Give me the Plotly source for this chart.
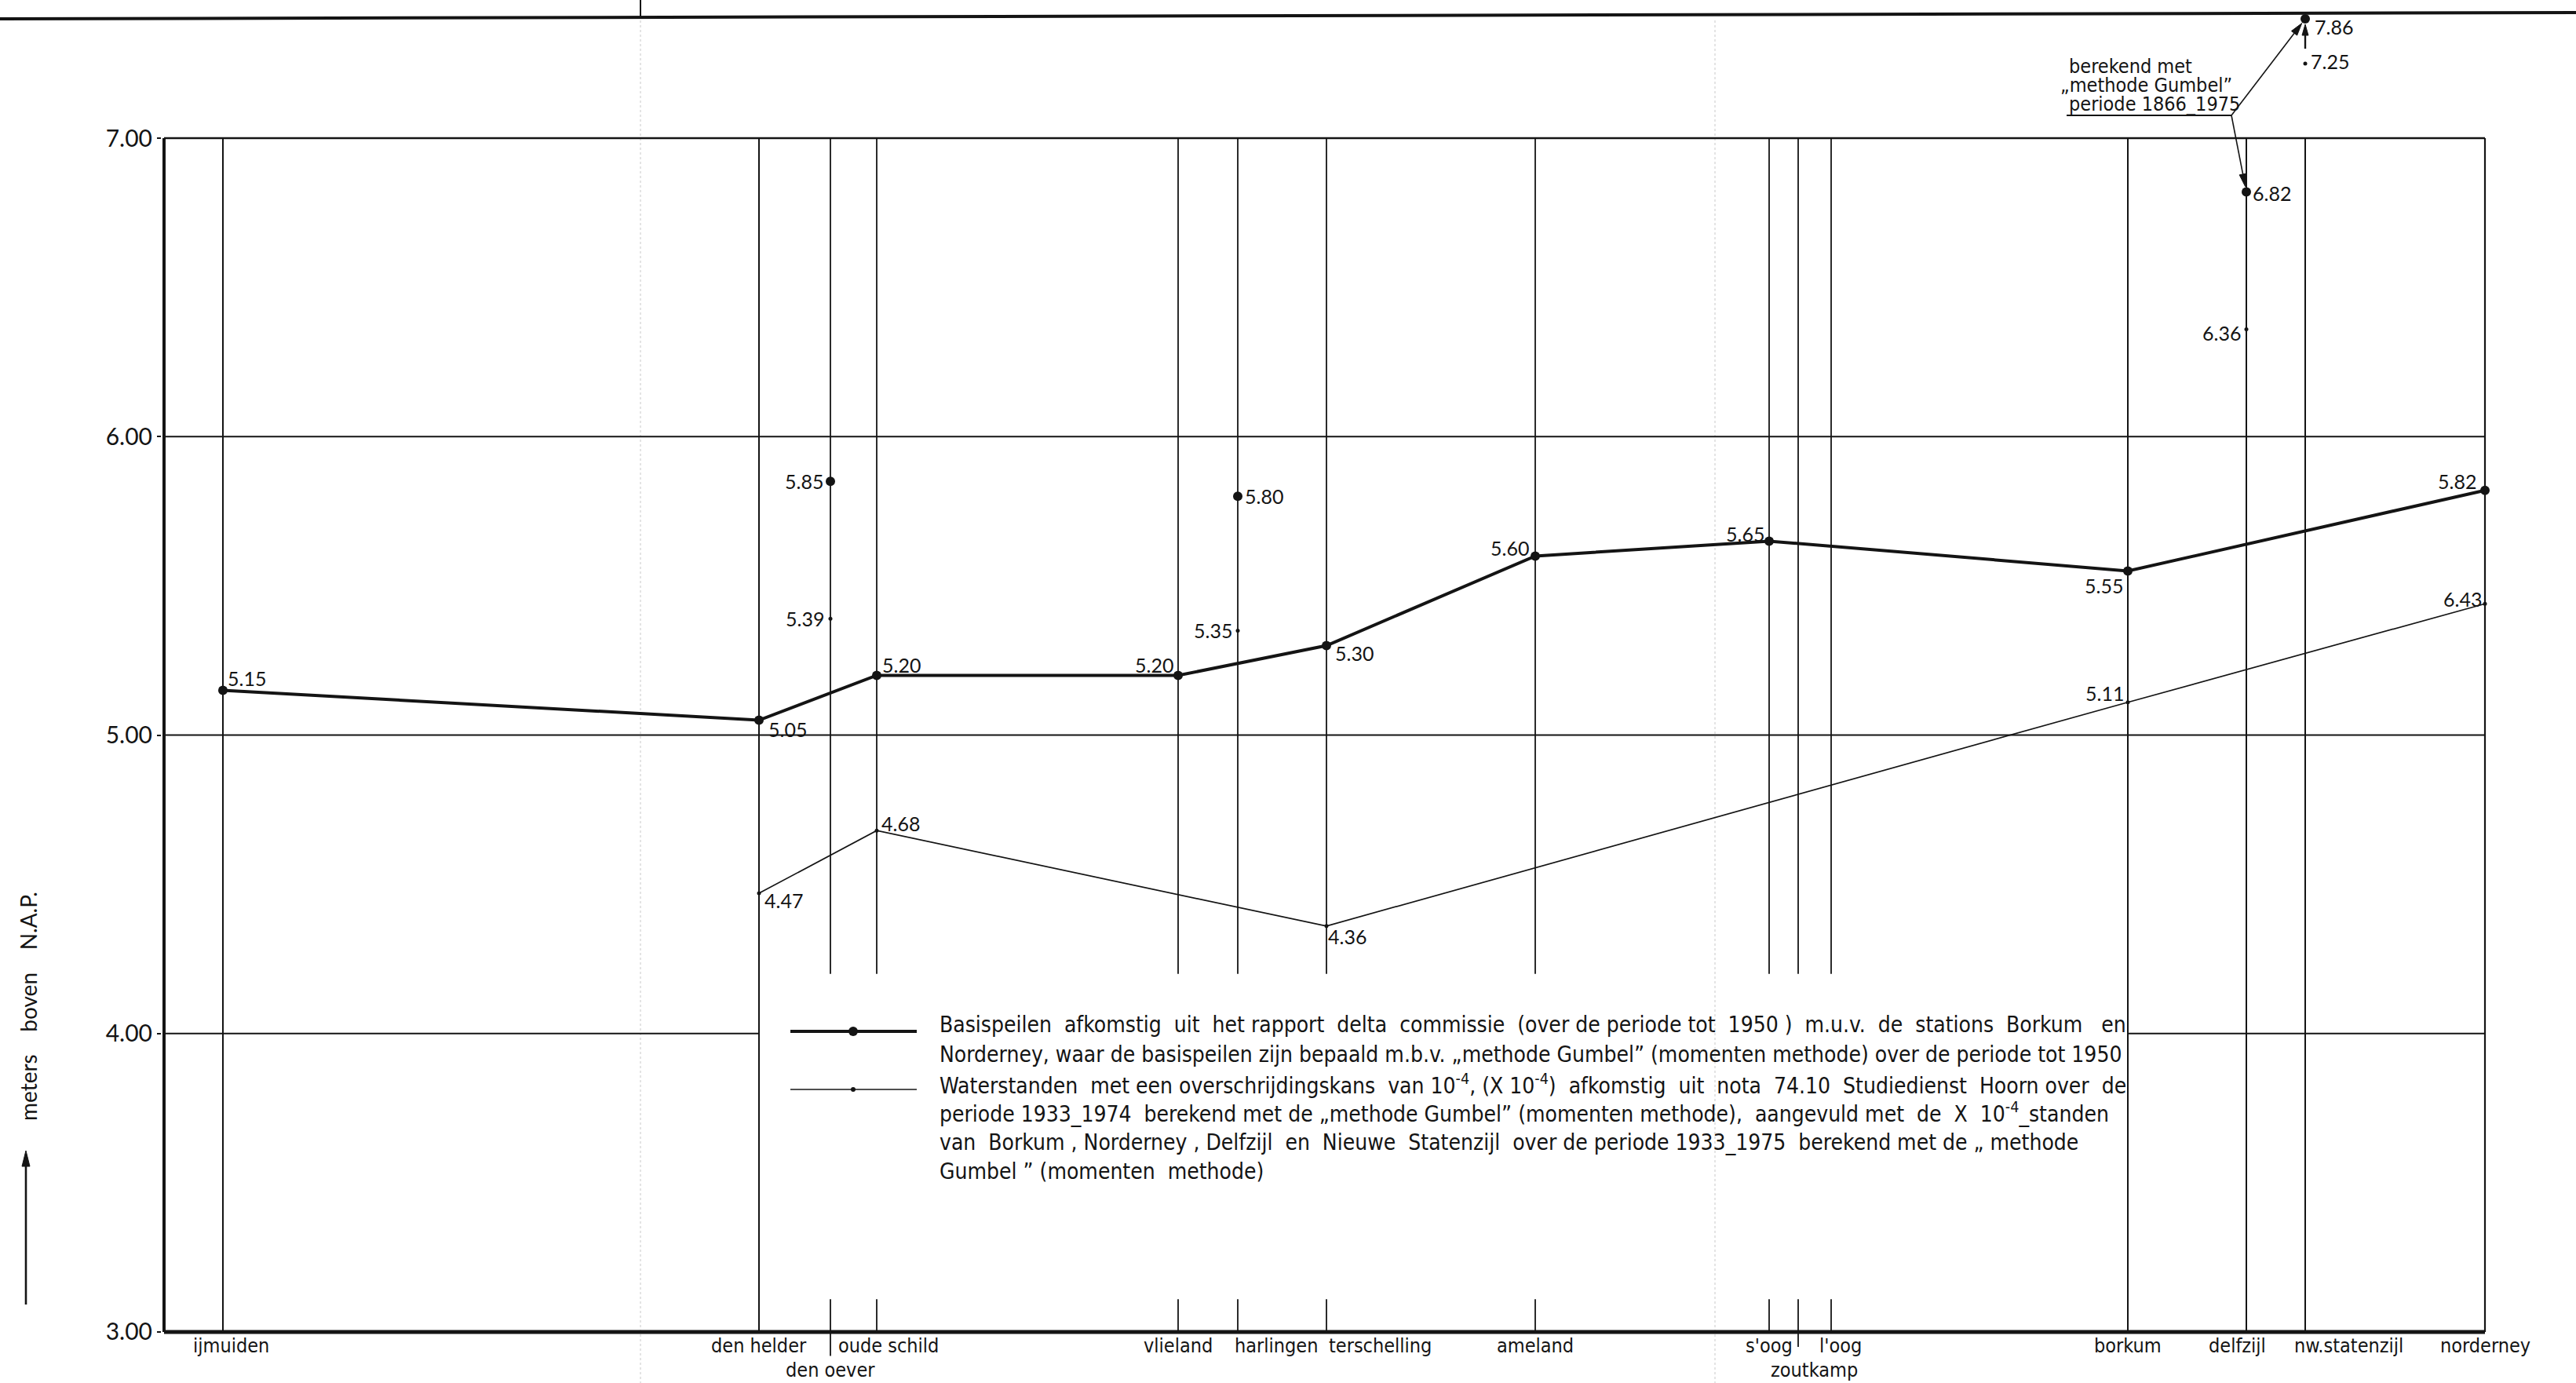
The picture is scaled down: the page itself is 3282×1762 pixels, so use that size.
import plotly.graph_objects as go
import numpy as np

# ---------------- data ----------------
stations = ["ijmuiden", "den helder", "den oever", "oude schild", "vlieland", "harlingen",
            "terschelling", "ameland", "s'oog", "zoutkamp", "l'oog", "borkum", "delfzijl",
            "nw.statenzijl", "norderney"]
# relative position of each station along the coast, as drawn on the sheet
station_pos = [75, 758, 849, 908, 1292, 1368, 1481, 1747, 2045, 2082, 2124, 2502, 2653, 2728, 2957]

# Basispeilen (delta commissie) - connected line
basis_stations = ["ijmuiden", "den helder", "oude schild", "vlieland", "terschelling",
                  "ameland", "s'oog", "borkum", "norderney"]
basis_values = [5.15, 5.05, 5.20, 5.20, 5.30, 5.60, 5.65, 5.55, 5.82]
# Basispeilen - separate points
basis_extra_stations = ["den oever", "harlingen", "delfzijl", "nw.statenzijl"]
basis_extra_values = [5.85, 5.80, 6.82, 7.86]

# Waterstanden 10^-4 - connected line (norderney point drawn at 5.44, printed "6.43")
norm_stations = ["den helder", "oude schild", "terschelling", "borkum", "norderney"]
norm_values = [4.47, 4.68, 4.36, 5.11, 5.44]
norm_labels = ["4.47", "4.68", "4.36", "5.11", "6.43"]
# Waterstanden 10^-4 - separate points
norm_extra_stations = ["den oever", "harlingen", "delfzijl", "nw.statenzijl"]
norm_extra_values = [5.39, 5.35, 6.36, 7.25]

y_ticks = [3, 4, 5, 6, 7]
y_ticklabels = ["3.00", "4.00", "5.00", "6.00", "7.00"]

# ---------------- geometry / style ----------------
W, H = 3282, 1762
L, R, T, B = 206, 113, 5, 8
X0, X1 = -3, 2960
Y0, Y1 = 2.85, 7.45
SHEET_TOP = 7.40          # values above this are drawn on the sheet edge (off-scale)
PW, PH = W - L - R, H - T - B
UNIT = PH / (Y1 - Y0)
XS = PW / (X1 - X0)

def dx(p):   # pixel x -> data x
    return X0 + (p - L) / XS
def dy(p):   # pixel y -> data y
    return Y1 - (p - T) / UNIT
def pxp(p):  # pixel x -> paper x
    return (p - L) / PW
def pyp(p):  # pixel y -> paper y
    return (H - B - p) / PH
def to_px(x, y):  # data -> pixel
    return L + (x - X0) * XS, T + (Y1 - y) * UNIT

LETTER = "DejaVu Sans Condensed, Liberation Sans Narrow, Arial Narrow, DejaVu Sans, sans-serif"
NUM = "Lato, Noto Sans, sans-serif"
INK = "#141414"

pos = dict(zip(stations, station_pos))

fig = go.Figure()

def xs(names):
    return [pos[n] for n in names]

fig.add_trace(go.Scatter(
    x=xs(basis_stations), y=basis_values, mode="lines+markers",
    line=dict(color=INK, width=4), marker=dict(size=12, color=INK),
    cliponaxis=False, showlegend=False, name="Basispeilen"))
fig.add_trace(go.Scatter(
    x=xs(basis_extra_stations), y=np.minimum(basis_extra_values, SHEET_TOP), mode="markers",
    marker=dict(size=12, color=INK), cliponaxis=False, showlegend=False, name="Basispeilen (los)"))
fig.add_trace(go.Scatter(
    x=xs(norm_stations), y=norm_values, mode="lines+markers",
    line=dict(color=INK, width=1.7), marker=dict(size=5, color=INK),
    cliponaxis=False, showlegend=False, name="Waterstanden 10^-4"))
fig.add_trace(go.Scatter(
    x=xs(norm_extra_stations), y=np.minimum(norm_extra_values, SHEET_TOP), mode="markers",
    marker=dict(size=5, color=INK), cliponaxis=False, showlegend=False, name="Waterstanden 10^-4 (los)"))

shapes = []
def hline(y, x0, x1, w):
    shapes.append(dict(type="line", xref="x", yref="y", x0=x0, x1=x1, y0=y, y1=y,
                       line=dict(color=INK, width=w)))
def vline(x, y0, y1, w):
    shapes.append(dict(type="line", xref="x", yref="y", x0=x, x1=x, y0=y0, y1=y1,
                       line=dict(color=INK, width=w)))

def arrow_px(tx, ty, hx, hy, w=1.6, head=14, half=4.5, standoff=0):
    """arrow from tail (tx,ty) to head (hx,hy), all in pixels"""
    vx, vy = hx - tx, hy - ty
    n = (vx * vx + vy * vy) ** 0.5
    ux, uy = vx / n, vy / n
    hx, hy = hx - ux * standoff, hy - uy * standoff
    bx, by = hx - ux * head, hy - uy * head
    shapes.append(dict(type="line", xref="paper", yref="paper",
                       x0=pxp(tx), y0=pyp(ty), x1=pxp(bx + ux * 2), y1=pyp(by + uy * 2),
                       line=dict(color=INK, width=w)))
    p1 = (bx - uy * half, by + ux * half)
    p2 = (bx + uy * half, by - ux * half)
    path = "M {:.6f},{:.6f} L {:.6f},{:.6f} L {:.6f},{:.6f} Z".format(
        pxp(hx), pyp(hy), pxp(p1[0]), pyp(p1[1]), pxp(p2[0]), pyp(p2[1]))
    shapes.append(dict(type="path", xref="paper", yref="paper", path=path,
                       fillcolor=INK, line=dict(color=INK, width=1)))

xmax = pos["norderney"]
# frame and grid
vline(0, 3, 7, 4)
hline(3, 0, xmax, 5)
hline(7, 0, xmax, 2.5)
hline(6, 0, xmax, 2)
hline(5, 0, xmax, 2)
hline(4, 0, pos["den helder"], 2)
hline(4, pos["borkum"], xmax, 2)

# station verticals (interrupted behind the legend)
broken = {"den oever", "oude schild", "vlieland", "harlingen", "terschelling",
          "ameland", "s'oog", "zoutkamp", "l'oog"}
below = {"den oever": 2.92, "zoutkamp": 2.95}
for s in stations:
    x = pos[s]
    if s in broken:
        vline(x, 4.20, 7, 1.8)
        vline(x, below.get(s, 3.0), 3.11, 1.8)
    else:
        vline(x, 3, 7, 2 if s != "norderney" else 2.2)

# sheet border at top, fold creases
shapes.append(dict(type="line", xref="paper", yref="paper", x0=pxp(0), x1=pxp(W),
                   y0=pyp(24), y1=pyp(16), line=dict(color=INK, width=4)))
shapes.append(dict(type="line", xref="paper", yref="paper", x0=pxp(816), x1=pxp(816),
                   y0=pyp(0), y1=pyp(23), line=dict(color=INK, width=2)))
for fx in (816, 2185):
    shapes.append(dict(type="line", xref="paper", yref="paper", x0=pxp(fx), x1=pxp(fx),
                       y0=pyp(26), y1=pyp(H), line=dict(color="#d2d2d2", width=1.2, dash="dot"),
                       layer="below"))

# legend samples
leg_x0, leg_x1, leg_xm = dx(1007), dx(1168), dx(1087)
y_leg1, y_leg2 = dy(1314), dy(1388)
hline(y_leg1, leg_x0, leg_x1, 4)
hline(y_leg2, leg_x0, leg_x1, 1.7)
shapes.append(dict(type="circle", xref="x", yref="y", xsizemode="pixel", ysizemode="pixel",
                   xanchor=leg_xm, yanchor=y_leg1, x0=-6, x1=6, y0=-6, y1=6,
                   fillcolor=INK, line=dict(color=INK, width=0)))
shapes.append(dict(type="circle", xref="x", yref="y", xsizemode="pixel", ysizemode="pixel",
                   xanchor=leg_xm, yanchor=y_leg2, x0=-3, x1=3, y0=-3, y1=3,
                   fillcolor=INK, line=dict(color=INK, width=0)))

# callout underline and arrows
shapes.append(dict(type="line", xref="x", yref="y", x0=dx(2633), x1=dx(2843),
                   y0=dy(147), y1=dy(147), line=dict(color=INK, width=2)))
tail_px = (2843, 147)
for s, v in [("nw.statenzijl", basis_extra_values[3]), ("delfzijl", basis_extra_values[2])]:
    hx, hy = to_px(pos[s], min(v, SHEET_TOP))
    arrow_px(tail_px[0], tail_px[1], hx, hy, w=1.6, head=16, half=4.5, standoff=7)
# small off-scale arrow at nw.statenzijl
hx, hy = to_px(pos["nw.statenzijl"], SHEET_TOP)
tx, ty = to_px(pos["nw.statenzijl"], 7.30)
arrow_px(tx, ty, hx, hy, w=2.4, head=14, half=4, standoff=7)
# arrow under the y-axis title
arrow_px(33, 1662, 33, 1466, w=2.6, head=20, half=5)

annotations = []
def note(x, y, text, xa="left", ya="middle", xs_=0, ys_=0, font=NUM, size=25, xref="x", yref="y"):
    annotations.append(dict(x=x, y=y, xref=xref, yref=yref, text=text, showarrow=False,
                            xanchor=xa, yanchor=ya, xshift=xs_, yshift=ys_,
                            font=dict(family=font, size=size, color=INK)))

# value labels: (anchor, xshift, yshift) per point
basis_lab = {"ijmuiden": ("left", 4, 16), "den helder": ("left", 10, -11),
             "oude schild": ("left", 5, 13), "vlieland": ("right", -4, 13),
             "terschelling": ("left", 9, -10), "ameland": ("right", -6, 10),
             "s'oog": ("right", -4, 9), "borkum": ("right", -4, -19),
             "norderney": ("right", -9, 12)}
basis_extra_lab = {"den oever": ("right", -7, 0), "harlingen": ("left", 7, 0),
                   "delfzijl": ("left", 6, -1), "nw.statenzijl": ("left", 10, -10)}
norm_lab = {"den helder": ("left", 5, -9), "oude schild": ("left", 4, 9),
            "terschelling": ("left", 0, -13), "borkum": ("right", -3, 12),
            "norderney": ("right", -2, 6)}
norm_extra_lab = {"den oever": ("right", -6, 0), "harlingen": ("right", -5, 0),
                  "delfzijl": ("right", -5, -5), "nw.statenzijl": ("left", 5, 3)}

for s, v in zip(basis_stations, basis_values):
    a, sx, sy = basis_lab[s]
    note(pos[s], v, f"{v:.2f}", xa=a, xs_=sx, ys_=sy)
for s, v in zip(basis_extra_stations, basis_extra_values):
    a, sx, sy = basis_extra_lab[s]
    note(pos[s], min(v, SHEET_TOP), f"{v:.2f}", xa=a, xs_=sx, ys_=sy)
for s, v, t in zip(norm_stations, norm_values, norm_labels):
    a, sx, sy = norm_lab[s]
    note(pos[s], v, t, xa=a, xs_=sx, ys_=sy)
for s, v in zip(norm_extra_stations, norm_extra_values):
    a, sx, sy = norm_extra_lab[s]
    note(pos[s], min(v, SHEET_TOP), f"{v:.2f}", xa=a, xs_=sx, ys_=sy)

# station names under the axis
label_dx = {"ijmuiden": 10, "oude schild": 15, "harlingen": 49, "terschelling": 68,
            "zoutkamp": 20, "l'oog": 12, "delfzijl": -12, "nw.statenzijl": 55}
second_row = {"den oever", "zoutkamp"}
for s in stations:
    note(pos[s], 3.0, s, xa="center", ya="middle", xs_=label_dx.get(s, 0),
         ys_=-49 if s in second_row else -18, font=LETTER, size=25)

# legend text
legend_lines = [
    "Basispeilen  afkomstig  uit  het rapport  delta  commissie  (over de periode tot  1950 )  m.u.v.  de  stations  Borkum   en",
    "Norderney, waar de basispeilen zijn bepaald m.b.v. „methode Gumbel” (momenten methode) over de periode tot 1950",
    "Waterstanden  met een overschrijdingskans  van 10<sup>-4</sup>, (X 10<sup>-4</sup>)  afkomstig  uit  nota  74.10  Studiedienst  Hoorn over  de",
    "periode 1933_1974  berekend met de „methode Gumbel” (momenten methode),  aangevuld met  de  X  10<sup>-4</sup>_standen",
    "van  Borkum , Norderney , Delfzijl  en  Nieuwe  Statenzijl  over de periode 1933_1975  berekend met de „ methode",
    "Gumbel ” (momenten  methode)",
]
legend_y_px = [1305, 1343, 1381, 1417, 1455, 1492]
for t, p in zip(legend_lines, legend_y_px):
    note(dx(1195), dy(p), t, font=LETTER, size=28)

# callout
callout_lines = ["berekend met", "„methode Gumbel”", "periode 1866_1975"]
callout_x_px = [2634, 2623, 2634]
callout_y_px = [84, 108, 132]
for t, xp, yp in zip(callout_lines, callout_x_px, callout_y_px):
    note(dx(xp), dy(yp), t, font=LETTER, size=25)

# y-axis title
annotations.append(dict(x=pxp(36), y=pyp(1282), xref="paper", yref="paper",
                        xanchor="center", yanchor="middle",
                        text="meters    boven    N.A.P.", textangle=-90, showarrow=False,
                        font=dict(family=NUM, size=28, color=INK)))

fig.update_layout(
    width=W, height=H,
    margin=dict(l=L, r=R, t=T, b=B),
    paper_bgcolor="white", plot_bgcolor="white",
    shapes=shapes, annotations=annotations,
    xaxis=dict(range=[X0, X1], visible=False, fixedrange=True),
    yaxis=dict(range=[Y0, Y1], tickvals=y_ticks, ticktext=y_ticklabels, showgrid=False,
               zeroline=False, showline=False, ticks="outside", ticklen=5, tickwidth=2,
               tickcolor=INK, tickfont=dict(family=NUM, size=30, color=INK), fixedrange=True),
    showlegend=False,
)

fig.write_html("out.html", config={"displayModeBar": False, "staticPlot": True},
               post_script="document.body.style.margin='0';document.body.style.overflow='hidden';")
